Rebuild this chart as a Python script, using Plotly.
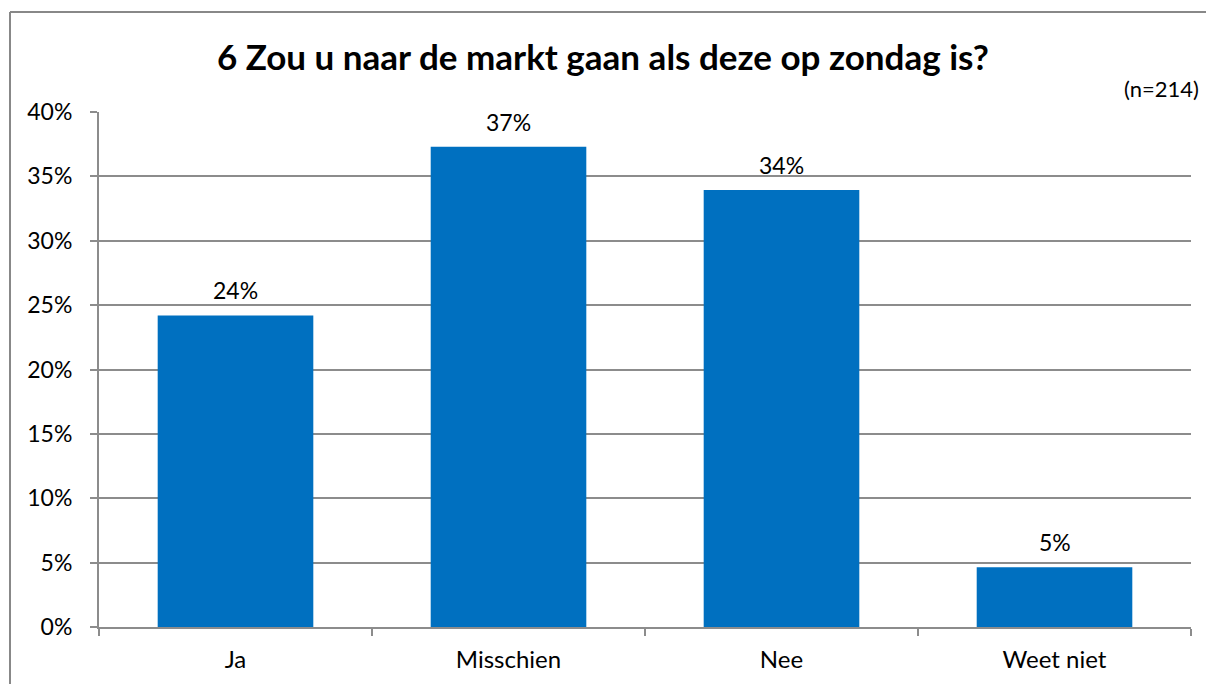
import plotly.graph_objects as go

categories = ["Ja", "Misschien", "Nee", "Weet niet"]
values = [24.2, 37.3, 33.95, 4.65]
labels = ["24%", "37%", "34%", "5%"]
tick_vals = [0, 5, 10, 15, 20, 25, 30, 35, 40]
tick_text = ["0%", "5%", "10%", "15%", "20%", "25%", "30%", "35%", "40%"]

W, H = 1206, 684
L, R, T, B = 99, 15, 112, 57
pw, ph = W - L - R, H - T - B

def px_x(x):
    return (x - L) / pw

def px_y(y):
    return (H - B - y) / ph

font = "Lato, 'Open Sans', sans-serif"
grid = "#8c8c8c"

fig = go.Figure(go.Bar(
    x=categories, y=values,
    marker=dict(color="#0070C0", line=dict(width=0)),
    hoverinfo="skip",
))

annotations = [dict(x=c, y=v, text=t, xref="x", yref="y", showarrow=False,
                    xanchor="center", yanchor="bottom", yshift=9,
                    font=dict(size=23, family=font, color="#000000"))
               for c, v, t in zip(categories, values, labels)]
annotations.append(dict(text="(n=214)", xref="paper", yref="paper",
                        x=px_x(1201), y=px_y(88), xanchor="right", yanchor="middle",
                        showarrow=False, font=dict(size=22, family=font, color="#000000")))

fig.update_layout(
    width=W, height=H,
    margin=dict(l=L, r=R, t=T, b=B),
    paper_bgcolor="white", plot_bgcolor="white",
    bargap=0.43, showlegend=False,
    font=dict(family=font, color="#000000"),
    title=dict(text="<b>6 Zou u naar de markt gaan als deze op zondag is?</b>",
               x=0.5, xanchor="center", y=1 - 58 / H, yanchor="middle",
               font=dict(size=35, family=font, color="#000000")),
    xaxis=dict(showgrid=False, showline=True, linecolor=grid, linewidth=2,
               ticks="outside", tickson="boundaries", ticklen=7, tickcolor=grid,
               tickwidth=2, ticklabelstandoff=10,
               tickfont=dict(size=24, family=font), fixedrange=True),
    yaxis=dict(range=[0, 40], tickvals=tick_vals, ticktext=tick_text,
               showgrid=True, gridcolor=grid, gridwidth=2, zeroline=False,
               showline=True, linecolor=grid, linewidth=2,
               ticks="outside", ticklen=7, tickcolor=grid, tickwidth=2,
               ticklabelstandoff=13, fixedrange=True,
               tickfont=dict(size=23, family=font)),
    annotations=annotations,
    shapes=[
        dict(type="line", xref="paper", yref="paper",
             x0=px_x(10), x1=px_x(10), y0=px_y(684), y1=px_y(12),
             line=dict(color="#888888", width=2), layer="below"),
        dict(type="line", xref="paper", yref="paper",
             x0=px_x(10), x1=px_x(1206), y0=px_y(12), y1=px_y(12),
             line=dict(color="#888888", width=2), layer="below"),
    ],
)

fig.write_html(
    "out.html", config={"displayModeBar": False},
    post_script=("document.body.style.margin='0';"
                 "document.body.style.overflow='hidden';"
                 "document.documentElement.style.overflow='hidden';"),
)
